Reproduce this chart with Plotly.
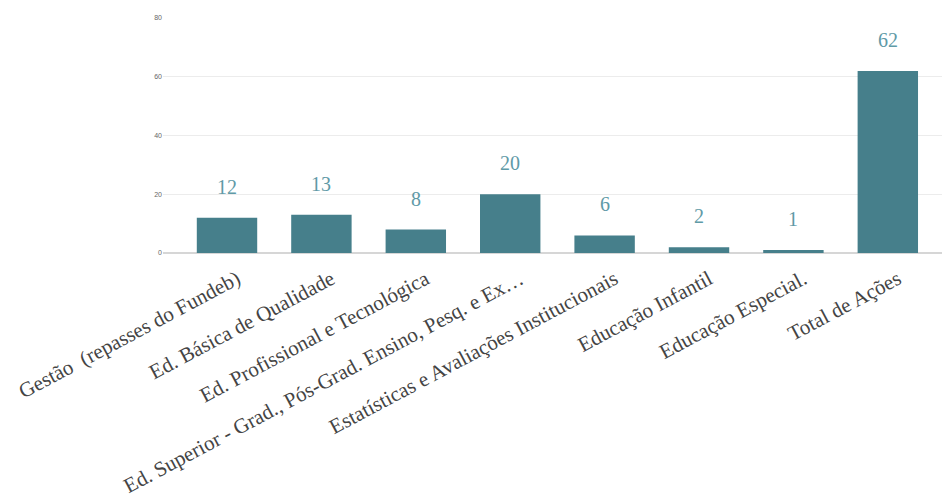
import plotly.graph_objects as go

categories = [
    "Gestão  (repasses do Fundeb)",
    "Ed. Básica de Qualidade",
    "Ed. Profissional e Tecnológica",
    "Ed. Superior - Grad., Pós-Grad. Ensino, Pesq. e Ex…",
    "Estatísticas e Avaliações Institucionais",
    "Educação Infantil",
    "Educação Especial.",
    "Total de Ações",
]
values = [12, 13, 8, 20, 6, 2, 1, 62]
y_ticks = [0, 20, 40, 60, 80]

SERIF = "Liberation Serif"

fig = go.Figure()
fig.add_trace(go.Bar(
    x=categories, y=values,
    marker=dict(color="#467f8b", line=dict(width=0)),
    width=0.64,
))
for c, v in zip(categories, values):
    fig.add_annotation(x=c, y=v, text=str(v), showarrow=False, yshift=31,
                       yanchor="middle",
                       font=dict(family=SERIF, size=20, color="#5f9aa7"))

fig.update_layout(
    width=942, height=500,
    margin=dict(l=163, r=0, t=18, b=247),
    plot_bgcolor="white", paper_bgcolor="white",
    showlegend=False,
    xaxis=dict(range=[-0.678, 7.574], tickangle=-28,
               tickfont=dict(family=SERIF, size=21, color="#444444"),
               ticklabelshift=10, ticklabelstandoff=9,
               showgrid=False, ticks="", showline=False),
    yaxis=dict(range=[0, 80], tickvals=y_ticks,
               tickfont=dict(family="Liberation Sans", size=7, color="#666666"),
               gridcolor="#ececec", gridwidth=1,
               zeroline=True, zerolinecolor="#d6d6d6", zerolinewidth=2,
               ticks="", showline=False),
)
fig.write_html("out.html")
